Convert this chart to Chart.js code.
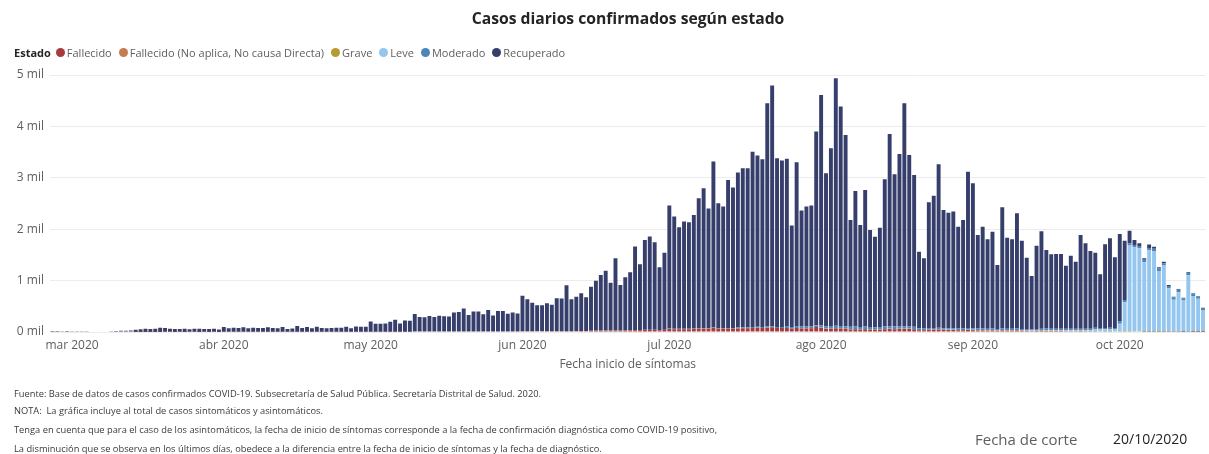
<!DOCTYPE html>
<html><head><meta charset="utf-8">
<script src="https://cdn.jsdelivr.net/npm/chart.js@4.4.1/dist/chart.umd.min.js"></script>
<style>
html,body{margin:0;padding:0;background:#fff;width:1209px;height:454px;overflow:hidden;font-family:"Open Sans",sans-serif;}
canvas{position:absolute;left:0;top:0;}
.t{position:absolute;white-space:nowrap;line-height:1;}
#legend{position:absolute;left:14px;top:45px;height:14px;display:flex;align-items:center;font-size:11px;color:#605e5c;white-space:nowrap;}
#legend b{color:#252423;margin-right:5px;}
#legend .li{display:flex;align-items:center;margin-right:7px;}
#legend .li i{display:inline-block;width:9px;height:9px;border-radius:50%;margin-right:2px;}
.fn{position:absolute;left:14px;white-space:nowrap;color:#3b3a39;line-height:1;}
</style></head><body>
<canvas id="c" width="1209" height="454"></canvas>
<div class="t" id="title" style="left:628px;top:11px;transform:translateX(-50%);font-weight:700;font-size:15.7px;color:#252423;">Casos diarios confirmados según estado</div>
<div id="legend"></div>
<div class="fn" id="fn1" style="top:389px">Fuente: Base de datos de casos confirmados COVID-19. Subsecretaría de Salud Pública. Secretaría Distrital de Salud. 2020.</div>
<div class="fn" id="fn2" style="top:406px">NOTA:&nbsp; La gráfica incluye al total de casos sintomáticos y asintomáticos.</div>
<div class="fn" id="fn3" style="top:425px">Tenga en cuenta que para el caso de los asintomáticos, la fecha de inicio de síntomas corresponde a la fecha de confirmación diagnóstica como COVID-19 positivo,</div>
<div class="fn" id="fn4" style="top:444px">La disminución que se observa en los últimos días, obedece a la diferencia entre la fecha de inicio de síntomas y la fecha de diagnóstico.</div>
<div class="t" id="corte" style="left:975px;top:432px;font-size:15px;color:#605e5c;">Fecha de corte</div>
<div class="t" id="fecha" style="left:1113px;top:432px;font-size:14px;color:#252423;">20/10/2020</div>
<script>
// ---- data (daily, from 2020-02-26 to 2020-10-18) ----
const startDate = '2020-02-26';
const seriesNames = ['Fallecido','Fallecido (No aplica, No causa Directa)','Grave','Leve','Moderado','Recuperado'];
const seriesColors = ['#a83a3b','#c67c50','#b89a30','#94c6ef','#4c86b8','#363e6b'];
const tickDates = ['2020-03-01','2020-04-01','2020-05-01','2020-06-01','2020-07-01','2020-08-01','2020-09-01','2020-10-01'];
const tickLabels = ['mar 2020','abr 2020','may 2020','jun 2020','jul 2020','ago 2020','sep 2020','oct 2020'];

const fallecido = [
 0,0,0,0,
 0,0,0,0,0,0,0,0,0,0,0,0,0,1,1,2,1,2,2,3,3,2,3,2,3,3,2,3,2,3,2,
 3,4,3,5,4,3,5,4,4,5,4,3,5,4,3,5,4,4,3,5,4,3,4,5,4,5,3,5,4,5,
 6,5,5,6,7,7,5,6,7,9,8,8,8,8,9,9,8,10,10,12,9,11,11,10,12,9,11,11,10,11,10,
 15,14,13,12,12,13,13,15,15,18,16,17,18,17,21,23,25,26,24,30,25,28,30,36,32,40,42,40,35,42,
 58,55,52,54,55,58,62,65,60,82,62,60,68,66,70,72,72,78,80,76,85,90,78,76,78,62,78,68,70,72,95,
 82,62,66,72,68,64,50,55,48,55,46,44,46,55,62,55,58,62,56,52,36,34,44,45,50,40,38,38,34,35,42,
 34,28,30,26,28,22,30,25,24,28,22,20,17,22,24,20,18,18,18,15,17,15,18,16,14,14,10,13,14,11,
 12,10,10,9,8,7,7,6,5,5,4,3,3,2,3,2,2,1
];
const fallecidoNoAplica = [
 0,0,0,0,
 0,0,0,0,0,0,0,0,0,0,0,0,0,0,0,0,0,0,0,0,0,0,0,0,0,0,0,0,0,0,0,
 0,0,0,0,0,0,0,0,0,0,0,0,0,0,0,0,0,0,0,0,0,0,0,0,0,0,0,0,0,0,
 0,0,0,0,0,0,0,0,0,0,0,0,0,0,0,0,0,0,0,0,0,0,0,0,0,0,0,0,0,0,0,
 1,1,1,1,1,1,1,1,1,1,1,1,1,1,1,1,1,1,1,1,1,1,1,1,1,1,1,1,1,1,
 2,2,2,2,2,2,2,2,2,2,2,2,2,2,2,2,2,2,2,2,2,2,2,2,2,2,2,2,2,2,2,
 2,2,2,2,2,2,2,2,2,2,2,2,2,2,2,2,2,2,2,2,2,2,2,2,2,2,2,2,2,2,2,
 1,1,1,1,1,1,1,1,1,1,1,1,1,1,1,1,1,1,1,1,1,1,1,1,1,1,1,1,1,1,
 0,0,0,0,0,0,0,0,0,0,0,0,0,0,0,0,0,0
];
const grave = [
 0,0,0,0,
 0,0,0,0,0,0,0,0,0,0,0,0,0,0,0,0,0,0,0,0,0,0,0,0,0,0,0,0,0,0,0,
 0,0,0,0,0,0,0,0,0,0,0,0,0,0,0,0,0,0,0,0,0,0,0,0,0,0,0,0,0,0,
 0,0,0,0,0,0,0,0,0,0,0,0,0,0,0,0,0,0,0,0,0,0,0,0,0,0,0,0,0,0,0,
 0,0,0,0,0,0,0,0,0,0,0,0,0,0,0,0,0,0,0,0,0,0,0,0,0,0,0,0,0,0,
 0,0,0,0,0,0,0,0,0,0,0,0,0,0,0,0,0,0,0,0,0,0,0,0,0,0,0,0,0,0,0,
 1,1,1,1,1,1,1,1,1,1,1,1,1,1,1,1,1,1,1,1,1,1,1,1,1,1,1,1,1,1,1,
 3,3,3,3,3,3,3,3,3,3,3,3,3,3,3,3,3,3,3,3,3,3,3,3,3,3,3,3,3,3,
 8,8,8,8,8,8,8,8,8,8,8,8,8,8,8,8,8,8
];
const leve = [
 0,0,0,0,
 0,0,0,0,0,0,0,0,0,0,0,0,0,0,0,0,0,0,0,0,0,0,0,0,0,0,0,0,0,0,0,
 0,0,0,0,0,0,0,0,0,0,0,0,0,0,0,0,0,0,0,0,0,0,0,0,0,0,0,0,0,0,
 0,0,0,0,0,0,0,0,0,0,0,0,0,0,0,0,0,0,0,0,0,0,0,0,0,0,0,0,0,0,0,
 0,0,0,0,0,0,0,0,0,0,0,0,0,0,0,0,0,0,0,0,0,0,0,0,0,0,0,0,0,0,
 0,0,0,0,0,0,0,0,0,0,0,0,0,0,0,0,0,0,0,0,0,0,0,0,0,0,0,0,0,0,0,
 2,2,2,2,2,2,2,2,2,2,2,2,2,2,2,2,2,2,2,2,2,2,2,2,2,2,2,2,2,2,2,
 6,6,6,6,6,6,6,6,6,6,6,6,6,6,6,15,15,15,15,15,15,15,15,15,15,35,35,35,35,35,
 140,560,1663,1631,1613,1344,1575,1561,1176,1280,838,616,760,602,1091,688,637,411
];
const moderado = [
 0,0,0,0,
 0,0,0,0,0,0,0,0,0,0,0,0,0,0,0,0,0,0,0,0,0,0,0,0,0,0,0,0,0,0,0,
 0,0,0,0,0,0,0,0,0,0,0,0,0,0,0,0,0,0,0,0,0,0,0,0,0,0,0,0,0,0,
 0,0,0,0,0,0,0,0,0,0,0,0,0,0,0,0,0,0,0,0,0,0,0,0,0,0,0,0,0,0,0,
 0,0,0,0,0,0,0,0,0,0,0,0,0,0,3,3,3,3,3,3,3,3,3,3,3,3,3,3,3,3,
 8,8,8,8,8,8,8,8,8,8,8,8,8,8,18,18,18,18,18,18,18,18,18,18,35,35,35,35,35,35,35,
 45,45,45,45,45,45,45,45,45,45,45,45,45,45,45,45,45,45,45,45,30,30,30,30,30,30,30,30,30,30,30,
 28,28,28,28,28,28,28,28,28,28,28,28,28,28,28,28,28,28,28,28,28,28,28,28,28,28,28,28,28,28,
 45,45,45,45,45,45,45,45,45,45,45,45,45,45,45,45,45,45
];
const recuperado = [
 2,1,3,2,
 4,3,6,5,8,10,9,12,15,18,22,25,30,44,54,60,59,63,83,77,59,58,55,63,52,62,60,57,56,59,48,
 92,71,82,75,86,72,80,76,74,85,76,72,90,56,67,110,76,91,72,95,76,72,76,80,81,95,72,100,96,95,
 199,155,155,159,193,233,160,219,213,341,282,277,302,282,306,296,292,370,380,443,321,389,389,335,418,311,399,399,345,369,350,
 690,621,556,507,507,544,516,639,634,891,618,669,733,656,857,972,1080,1163,932,1400,886,1032,1127,1621,1281,1747,1810,1702,1219,1498,
 2391,2180,1975,2084,2070,2210,2530,2722,2331,3224,2432,2370,2881,2734,3012,3095,3095,3407,3334,3266,4347,4686,3284,3240,3254,1972,3189,2257,2333,2350,3768,
 4480,2975,3458,4815,4267,3720,2079,2639,1984,2658,1889,1761,1934,2866,3741,2963,3356,4338,3338,2952,1492,1364,2444,2573,3178,2299,2249,2269,1981,2109,3042,
 2820,1821,1982,1740,1886,1243,2358,1773,1741,2243,1717,1388,1034,1620,1897,1529,1446,1453,1453,1228,1421,1306,1822,1662,1515,1463,1045,1626,1742,1375,
 1702,1154,246,97,52,30,65,40,25,30,20,15,15,10,15,10,8,5
];

const seriesData = [fallecido, fallecidoNoAplica, grave, leve, moderado, recuperado];
const N = recuperado.length;
seriesData.forEach((s,k)=>{ if (s.length !== N) throw new Error('length mismatch '+seriesNames[k]+' '+s.length+' vs '+N); });

// category labels (one per day)
const categories = [];
{
  const d0 = new Date(startDate+'T00:00:00Z');
  for (let i=0;i<N;i++){
    const d = new Date(d0.getTime()+i*86400000);
    categories.push(d.toISOString().slice(0,10));
  }
}

// legend
const lg = document.getElementById('legend');
lg.innerHTML = '<b>Estado</b>' + seriesNames.map((n,k)=>'<span class="li"><i style="background:'+seriesColors[k]+'"></i>'+n+'</span>').join('');

// fit footnotes widths
function fitWidth(el, target){
  el.style.fontSize='10px';
  const w = el.getBoundingClientRect().width;
  el.style.fontSize = (10*target/w).toFixed(2)+'px';
}
fitWidth(document.getElementById('fn3'), 703);
const fs = document.getElementById('fn3').style.fontSize;
['fn1','fn2','fn4'].forEach(id=>document.getElementById(id).style.fontSize=fs);

const AXIS = '#605e5c';
new Chart(document.getElementById('c'), {
  type:'bar',
  data:{
    labels:categories,
    datasets: seriesData.map((d,k)=>({label:seriesNames[k], data:d, backgroundColor:seriesColors[k], borderWidth:0,
      categoryPercentage:1, barPercentage:0.8, stack:'s'}))
  },
  options:{
    responsive:false, animation:false,
    layout:{padding:{left:0,right:0,top:75,bottom:82}},
    plugins:{legend:{display:false}, title:{display:false}, tooltip:{enabled:false}},
    scales:{
      x:{stacked:true, grid:{display:false, drawTicks:false}, border:{display:false},
        ticks:{autoSkip:false, maxRotation:0, minRotation:0, padding:6, color:AXIS, font:{family:'Open Sans', size:12},
          callback:function(v,i){ const k = tickDates.indexOf(categories[i]); return k>=0 ? tickLabels[k] : ''; }},
        title:{display:true, text:'Fecha inicio de síntomas', color:AXIS, font:{family:'Open Sans', size:12}, padding:{top:0,bottom:0}},
        afterFit:function(s){ s.height = 40; }
      },
      y:{stacked:true, min:0, max:5000,
        ticks:{stepSize:1000, color:AXIS, font:{family:'Open Sans', size:12}, padding:6,
          callback:function(v){ return (v/1000)+' mil'; }},
        grid:{color:'#ececec', drawTicks:false}, border:{display:false},
        afterFit:function(s){ s.width = 50; }
      }
    }
  }
});
</script>
</body></html>
